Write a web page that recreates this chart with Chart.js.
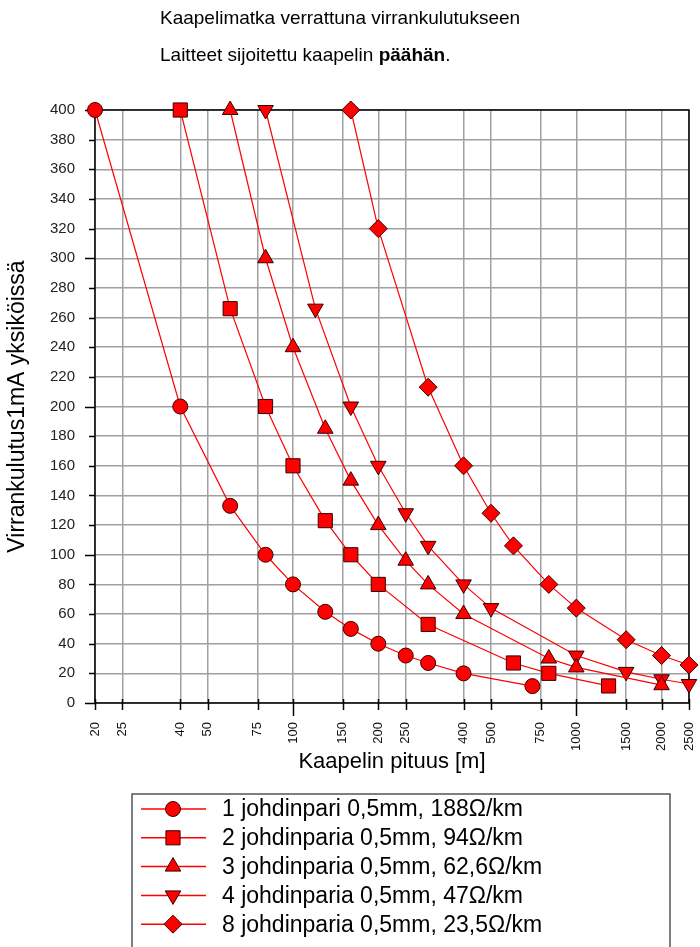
<!DOCTYPE html>
<html>
<head>
<meta charset="utf-8">
<script src="https://cdn.jsdelivr.net/npm/chart.js@4/dist/chart.umd.min.js"></script>
<style>
  html, body { margin: 0; padding: 0; background: #fff; }
  #wrap { position: relative; width: 700px; height: 947px; overflow: hidden; }
  .title { position: absolute; left: 160px; font: 19px "Liberation Sans", Arial, sans-serif; color: #000; line-height: 22px; white-space: nowrap; }
</style>
</head>
<body>
<div id="wrap">
  <canvas id="myChart" width="700" height="947" style="width:700px;height:947px"></canvas>
  <div class="title" style="top:7px">Kaapelimatka verrattuna virrankulutukseen</div>
  <div class="title" style="top:44px">Laitteet sijoitettu kaapelin <b>päähän</b>.</div>
</div>
<script>
// cable length [m] and current [mA units] per series
const len1 = [20, 40, 60, 80, 100, 130, 160, 200, 250, 300, 400, 700]
const val1 = [400, 200, 133, 100, 80, 61.5, 50, 40, 32, 27, 20, 11.4]
const len2 = [40, 60, 80, 100, 130, 160, 200, 300, 600, 800, 1300]
const val2 = [400, 266, 200, 160, 123, 100, 80, 53, 27, 20, 11.5]
const len3 = [60, 80, 100, 130, 160, 200, 250, 300, 400, 800, 1000, 2000]
const val3 = [400, 300, 240, 185, 150, 120, 96, 80, 60, 30, 24, 12]
const len4 = [80, 120, 160, 200, 250, 300, 400, 500, 1000, 1500, 2000, 2500]
const val4 = [400, 266, 200, 160, 128, 106, 80, 64, 32, 21, 16, 12.8]
const len8 = [160, 200, 300, 400, 500, 600, 800, 1000, 1500, 2000, 2500]
const val8 = [400, 320, 213, 160, 128, 106, 80, 64, 42.7, 32, 25.6]

const seriesNames = [
    '1 johdinpari 0,5mm, 188Ω/km',
    '2 johdinparia 0,5mm, 94Ω/km',
    '3 johdinparia 0,5mm, 62,6Ω/km',
    '4 johdinparia 0,5mm, 47Ω/km',
    '8 johdinparia 0,5mm, 23,5Ω/km'
]
const xTicks = [20, 25, 40, 50, 75, 100, 150, 200, 250, 400, 500, 750, 1000, 1500, 2000, 2500]

const FONT = '"Liberation Sans", Arial, sans-serif'

const pts = (xs, ys) => xs.map((x, i) => ({x: x, y: ys[i]}))

const mk = (name, xs, ys, style, radius, rot) => ({
    label: name,
    data: pts(xs, ys),
    borderColor: '#ff0000',
    borderWidth: 1.2,
    backgroundColor: '#ff0000',
    pointBackgroundColor: '#ff0000',
    pointBorderColor: '#3a0000',
    pointBorderWidth: 1,
    pointStyle: style,
    pointRadius: radius,
    pointHoverRadius: radius,
    pointRotation: rot,
    tension: 0,
    clip: false
})

const datasets = [
    mk(seriesNames[0], len1, val1, 'circle', 7.5, 0),
    mk(seriesNames[1], len2, val2, 'rect', 10, 0),
    mk(seriesNames[2], len3, val3, 'triangle', 9, 0),
    mk(seriesNames[3], len4, val4, 'triangle', 9, 180),
    mk(seriesNames[4], len8, val8, 'rectRot', 9, 0)
]

const frame = {
    id: 'frame',
    beforeDatasetsDraw(chart) {
        const {ctx, chartArea: a, scales} = chart
        ctx.save()
        ctx.strokeStyle = '#000'
        ctx.lineWidth = 1.5
        ctx.strokeRect(a.left, a.top, a.right - a.left, a.bottom - a.top)
        scales.x.ticks.forEach(t => {
            const px = Math.round(scales.x.getPixelForValue(t.value)) + 0.5
            const l = (t.value === 100 || t.value === 1000) ? 13 : 7
            ctx.beginPath()
            ctx.moveTo(px, a.bottom - 4)
            ctx.lineTo(px, a.bottom + l)
            ctx.stroke()
        })
        scales.y.ticks.forEach(t => {
            const py = Math.round(scales.y.getPixelForValue(t.value)) + 0.5
            const l = t.value % 100 === 0 ? 10 : 6
            ctx.beginPath()
            ctx.moveTo(a.left - l, py)
            ctx.lineTo(a.left, py)
            ctx.stroke()
        })
        ctx.restore()
    },
    afterDraw(chart) {
        const ctx = chart.ctx
        ctx.save()
        ctx.strokeStyle = '#555'
        ctx.lineWidth = 1.5
        ctx.strokeRect(132, 794, 538, 170)
        chart.data.datasets.forEach((ds, i) => {
            const y = 809 + i * 28.8
            ctx.strokeStyle = ds.borderColor
            ctx.lineWidth = 1.5
            ctx.beginPath()
            ctx.moveTo(141, y)
            ctx.lineTo(206, y)
            ctx.stroke()
            ctx.fillStyle = ds.pointBackgroundColor
            ctx.strokeStyle = ds.pointBorderColor
            ctx.lineWidth = 1
            Chart.helpers.drawPoint(ctx, {
                pointStyle: ds.pointStyle,
                rotation: ds.pointRotation,
                radius: ds.pointRadius,
                borderWidth: 1
            }, 173, y)
            ctx.fillStyle = '#000'
            ctx.font = '23px ' + FONT
            ctx.textBaseline = 'middle'
            ctx.textAlign = 'left'
            ctx.fillText(ds.label, 222, y + 1)
        })
        ctx.restore()
    }
}

const config = {
    type: 'line',
    data: {datasets: datasets},
    options: {
        responsive: false,
        animation: false,
        layout: {padding: {top: 110, right: 10, left: 0, bottom: 172}},
        plugins: {
            legend: {display: false},
            tooltip: {enabled: false}
        },
        scales: {
            x: {
                type: 'logarithmic',
                min: 20,
                max: 2500,
                afterBuildTicks: scale => {
                    scale.ticks = xTicks.map(v => ({value: v}))
                },
                afterFit: scale => {
                    scale.height = 72
                    scale.paddingLeft = 0
                    scale.paddingRight = 0
                },
                grid: {color: '#a0a0a0', lineWidth: 1.5, drawTicks: false},
                border: {display: false},
                ticks: {
                    autoSkip: false,
                    minRotation: 90,
                    maxRotation: 90,
                    padding: 19,
                    color: '#111',
                    font: {family: FONT, size: 13},
                    callback: v => String(v)
                },
                title: {
                    display: true,
                    text: 'Kaapelin pituus [m]',
                    color: '#000',
                    font: {family: FONT, size: 22},
                    padding: {top: 0, bottom: 0}
                }
            },
            y: {
                min: 0,
                max: 400,
                afterFit: scale => { scale.width = 95 },
                grid: {color: '#a0a0a0', lineWidth: 1.5, drawTicks: false},
                border: {display: false},
                ticks: {
                    stepSize: 20,
                    padding: 20,
                    color: '#222',
                    font: {family: FONT, size: 15}
                },
                title: {
                    display: true,
                    text: 'Virrankulutus1mA yksiköissä',
                    color: '#000',
                    font: {family: FONT, size: 23},
                    padding: {top: 4, bottom: 0}
                }
            }
        }
    },
    plugins: [frame]
}

const ctx = document.getElementById('myChart').getContext('2d')
new Chart(ctx, config)
</script>
</body>
</html>
